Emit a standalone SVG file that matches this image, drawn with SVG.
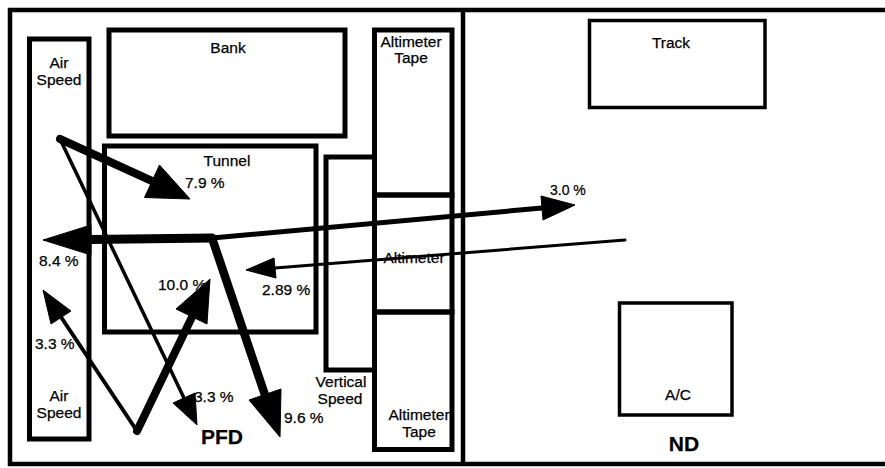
<svg xmlns="http://www.w3.org/2000/svg" width="885" height="468" viewBox="0 0 885 468">
<style>
.box{fill:none;stroke:#000;stroke-width:5}
.thin{fill:none;stroke:#000;stroke-width:3.5}
.frame{fill:none;stroke:#000;stroke-width:4.5}
text{font-family:"Liberation Sans",Arial,sans-serif;font-size:15.5px;fill:#000;stroke:#000;stroke-width:0.25;text-anchor:middle}
.lbl{text-anchor:start}
.big{font-size:21px;font-weight:bold}
.shaft{fill:none;stroke:#000;stroke-linecap:round;stroke-linejoin:round}
.head{fill:#000;stroke:#000;stroke-width:1;stroke-linejoin:miter}
</style>
<rect width="885" height="468" fill="#fff"/>
<g id="frame">
<rect class="frame" x="10" y="10" width="885" height="454"/>
<line class="frame" x1="463" y1="10" x2="463" y2="464"/>
</g>
<g id="pfd-label"><text class="big" x="222" y="444">PFD</text></g>
<g id="nd-label"><text class="big" x="684" y="451">ND</text></g>
<g id="airspeed">
<rect class="box" x="29.5" y="39" width="59.5" height="400"/>
<text x="59" y="68">Air</text><text x="59" y="85">Speed</text>
<text x="59" y="401">Air</text><text x="59" y="418">Speed</text>
</g>
<g id="bank">
<rect class="box" x="109" y="30" width="236" height="106"/>
<text x="228" y="53">Bank</text>
</g>
<g id="tunnel">
<rect class="box" x="104.5" y="146" width="211.5" height="186"/>
<text x="227" y="166">Tunnel</text>
</g>
<g id="vertical-speed">
<rect class="box" x="326" y="157" width="48.5" height="213"/>
<text x="341" y="387">Vertical</text><text x="340" y="404">Speed</text>
</g>
<g id="altimeter-tape-top">
<rect class="box" x="374.5" y="30" width="77.5" height="165"/>
<text x="411" y="47">Altimeter</text><text x="411" y="63">Tape</text>
</g>
<g id="altimeter">
<rect class="box" x="374.5" y="195" width="77.5" height="117"/>
<text x="414" y="263">Altimeter</text>
</g>
<g id="altimeter-tape-bottom">
<rect class="box" x="374.5" y="312" width="77.5" height="137.5"/>
<text x="419" y="420">Altimeter</text><text x="419" y="437">Tape</text>
</g>
<g id="track">
<rect class="thin" x="589.5" y="20.5" width="175.5" height="87"/>
<text x="671" y="48">Track</text>
</g>
<g id="ac">
<rect class="thin" x="619.5" y="303" width="112.5" height="112"/>
<text x="678" y="400">A/C</text>
</g>
<g id="connectors">
<line class="shaft" stroke-width="8" x1="60" y1="139" x2="152" y2="181"/>
<polygon class="head" points="190,199 144.5,197.5 159.5,165"/>
<line class="shaft" stroke-width="3.5" x1="60" y1="139" x2="184" y2="398"/>
<polygon class="head" points="197,425 173,403 195,393"/>
<line class="shaft" stroke-width="9" x1="212" y1="238" x2="90" y2="239.5"/>
<polygon class="head" points="43,240 91,225 91,255"/>
<line class="shaft" stroke-width="5" x1="212" y1="238" x2="542" y2="208"/>
<polygon class="head" points="575,205 543,220 541,196"/>
<line class="shaft" stroke-width="8.5" x1="212" y1="238" x2="265" y2="395"/>
<polygon class="head" points="280,437 249,400 281,389"/>
<line class="shaft" stroke-width="3" x1="625" y1="240" x2="275" y2="268"/>
<polygon class="head" points="246,270 274,258 276,278"/>
<line class="shaft" stroke-width="8" x1="137" y1="431" x2="192" y2="317"/>
<polygon class="head" points="210,279 207,324 176,309"/>
<line class="shaft" stroke-width="4" x1="137" y1="431" x2="61" y2="317"/>
<polygon class="head" points="43,290 71,311 51,324"/>
<text class="lbl" x="185" y="188">7.9 %</text>
<text class="lbl" x="550" y="195" style="font-size:14px">3.0 %</text>
<text class="lbl" x="39" y="266">8.4 %</text>
<text class="lbl" x="158" y="290">10.0 %</text>
<text class="lbl" x="262" y="295">2.89 %</text>
<text class="lbl" x="35" y="349">3.3 %</text>
<text class="lbl" x="194" y="402">3.3 %</text>
<text class="lbl" x="284" y="423">9.6 %</text>
</g>
</svg>
